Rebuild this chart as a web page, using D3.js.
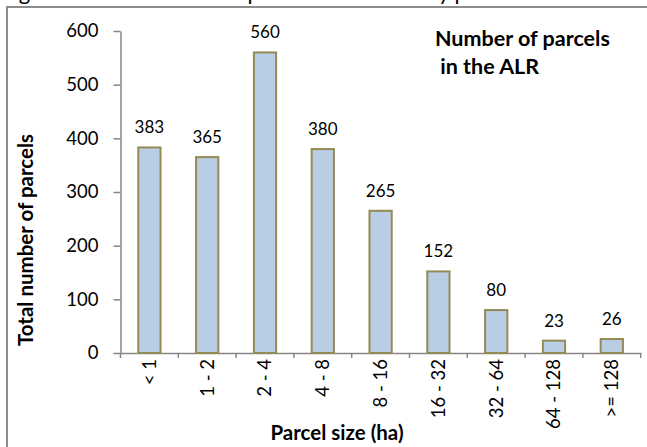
<!DOCTYPE html>
<html><head><meta charset="utf-8">
<script src="https://cdn.jsdelivr.net/npm/d3@7"></script>
<style>body{margin:0;background:#fff;overflow:hidden}svg{display:block}text{font-family:Lato,"Open Sans",sans-serif}</style>
</head><body><svg id="c" width="647" height="447"></svg>
<script>
const categories = ["< 1","1 - 2","2 - 4","4 - 8","8 - 16","16 - 32","32 - 64","64 - 128",">= 128"];
const values = [383,365,560,380,265,152,80,23,26];
const yTicks = [0,100,200,300,400,500,600];
const caption = "Figure 3: Total number of parcels in the ALR by parcel size";
const titleLines = ["Number of parcels"," in the ALR"];
const xTitle = "Parcel size (ha)";
const yTitle = "Total number of parcels";

const svg = d3.select("#c");
// caption (cut off at top, only descenders visible as in the reference)
const cap = svg.append("text").attr("x",1).attr("y",0).attr("font-size",22).attr("fill","#000").text(caption);
// frame
svg.append("path").attr("d","M7,447V7H647").attr("fill","none").attr("stroke","#8c8c8c").attr("stroke-width",2);

const x0=120.5, x1=640.7, yTop=31, yBot=353;
const x = d3.scaleBand().domain(categories).range([x0,x1]).paddingInner(0.615).paddingOuter(0.3075);
const y = d3.scaleLinear().domain([0,600]).range([yBot,yTop]);
const axisColor="#868686";

// y axis
const ya = svg.append("g").attr("transform",`translate(${x0},0)`)
  .call(d3.axisLeft(y).tickValues(yTicks).tickSize(7).tickPadding(15).tickSizeOuter(0));
ya.select(".domain").attr("stroke",axisColor).attr("stroke-width",1.5);
ya.selectAll(".tick line").attr("stroke",axisColor).attr("stroke-width",1.5);
ya.selectAll(".tick text").attr("font-size",18.5).attr("fill","#000").attr("font-family","Lato");

// x axis
const xa = svg.append("g").attr("transform",`translate(0,${yBot})`)
  .call(d3.axisBottom(x).tickSize(0).tickSizeOuter(0));
xa.select(".domain").attr("stroke",axisColor).attr("stroke-width",1.5);
xa.selectAll(".tick text").attr("font-size",18.5).attr("fill","#000").attr("font-family","Lato")
  .attr("text-anchor","end").attr("transform","rotate(-90)").attr("x",-6).attr("y",0).attr("dy","0.35em");
// boundary ticks
const step = x.step();
xa.selectAll("line.bt").data(d3.range(categories.length+1)).join("line").attr("class","bt")
  .attr("x1",i=>x0+i*step).attr("x2",i=>x0+i*step).attr("y1",0).attr("y2",5)
  .attr("stroke",axisColor).attr("stroke-width",1.5);

// bars
svg.append("g").selectAll("rect").data(values).join("rect")
  .attr("x",(d,i)=>x(categories[i])).attr("width",x.bandwidth())
  .attr("y",d=>y(d)).attr("height",d=>yBot-y(d))
  .attr("fill","#b9cde5").attr("stroke","#948a54").attr("stroke-width",2);

// value labels
svg.append("g").selectAll("text").data(values).join("text")
  .attr("x",(d,i)=>x(categories[i])+x.bandwidth()/2).attr("y",d=>y(d)-14)
  .attr("text-anchor","middle").attr("font-size",17).attr("fill","#000").text(d=>d);

// title
svg.append("g").selectAll("text").data(titleLines).join("text")
  .attr("x",435).attr("y",(d,i)=>46+i*28).attr("font-size",21.5).attr("font-weight","bold")
  .attr("xml:space","preserve").style("white-space","pre").text(d=>d);

// axis titles
svg.append("text").attr("x",337).attr("y",440).attr("text-anchor","middle")
  .attr("font-size",20.5).attr("font-weight","bold").text(xTitle);
svg.append("text").attr("transform","translate(33,240) rotate(-90)").attr("text-anchor","middle")
  .attr("font-size",20.5).attr("font-weight","bold").text(yTitle);
</script></body></html>
